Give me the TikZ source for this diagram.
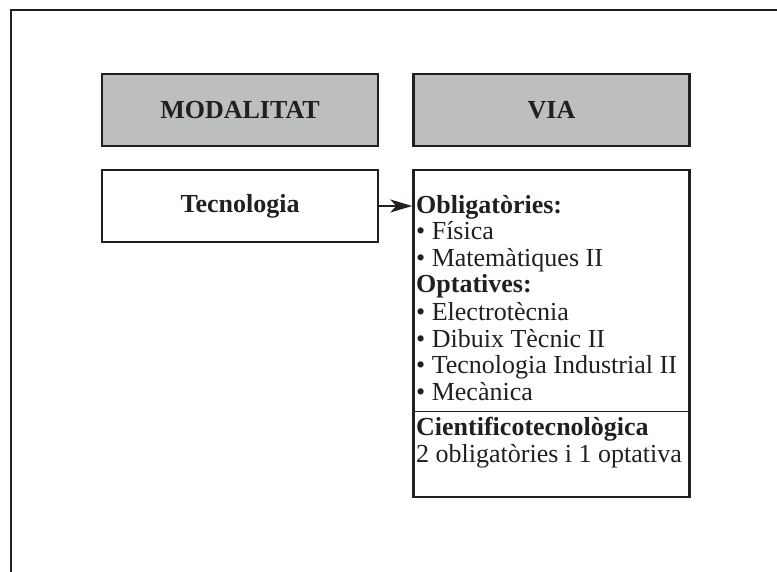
\documentclass[tikz,border=0pt]{standalone}
\usepackage{fontspec}
\setmainfont{Liberation Serif}
\usetikzlibrary{arrows.meta}
\definecolor{ink}{HTML}{231F20}
\definecolor{boxgrey}{HTML}{BCBEC0}
\tikzset{
  frameline/.style={draw=ink, line width=2.5pt},
  headbox/.style={draw=ink, line width=2.5pt, fill=boxgrey, minimum width=276pt, minimum height=72pt, inner sep=0pt, font=\fontsize{26}{28}\selectfont\bfseries, text=ink},
  plainbox/.style={draw=ink, line width=2.5pt, fill=white, minimum width=276pt, inner sep=0pt, font=\fontsize{26}{28}\selectfont\bfseries, text=ink},
  itemtext/.style={anchor=base west, inner sep=0pt, font=\fontsize{26}{28}\selectfont, text=ink},
  itembold/.style={itemtext, font=\fontsize{26}{28}\selectfont\bfseries},
  arrowline/.style={draw=ink, line width=2pt, -{Stealth[length=22pt 0, width=13pt 0, inset=6pt]}},
  sepline/.style={draw=ink, line width=0.9pt}
}
\begin{document}
\begin{tikzpicture}[x=1pt, y=-1pt]
\useasboundingbox (0,0) rectangle (777,572);
% outer frame (top and left sides only)
\coordinate (ftr) at (777,10);
\coordinate (ftl) at (11,10);
\coordinate (fbl) at (11,572);
\draw[frameline] (ftr) -- (ftl) -- (fbl);
% header boxes
\node[headbox] (modalitat) at (240,110) {MODALITAT};
\node[headbox] (via) at (551.5,110) {VIA};
% Tecnologia box
\node[plainbox, minimum height=72pt] (tec) at (240,206) {Tecnologia};
% right content box
\node[plainbox, minimum height=327pt] (vbox) at (551.5,333.5) {};
% arrow
\draw[arrowline] (tec.east) -- (tec.east -| vbox.west);
% items
\node[itembold] (l1) at (416,214) {Obligatòries:};
\node[itemtext] (l2) at (416,240) {• Física};
\node[itemtext] (l3) at (416,267) {• Matemàtiques II};
\node[itembold] (l4) at (416,293) {Optatives:};
\node[itemtext] (l5) at (416,320) {• Electrotècnia};
\node[itemtext] (l6) at (416,347) {• Dibuix Tècnic II};
\node[itemtext] (l7) at (416,373) {• Tecnologia Industrial II};
\node[itemtext] (l8) at (416,400) {• Mecànica};
\coordinate (sepL) at (vbox.west |- 0,411);
\coordinate (sepR) at (vbox.east |- 0,411);
\draw[sepline] (sepL) -- (sepR);
\node[itembold] (l9) at (416,435) {Cientificotecnològica};
\node[itemtext] (l10) at (416,462) {2 obligatòries i 1 optativa};
\end{tikzpicture}
\end{document}
